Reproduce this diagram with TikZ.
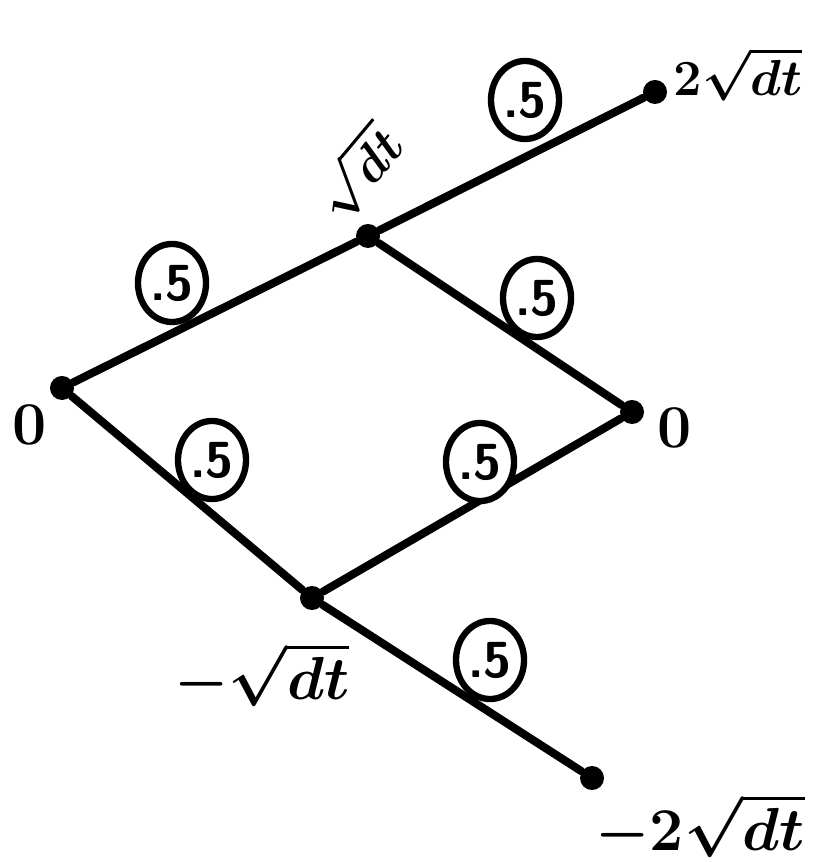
\documentclass[tikz,border=0pt]{standalone}
\usetikzlibrary{shapes.geometric}
\begin{document}
\begin{tikzpicture}[x=0.01cm,y=-0.01cm,
  edge/.style={line width=2.3pt,line cap=round},
  dot/.style={circle,fill=black,inner sep=0pt,minimum size=0.24cm},
  prob/.style={ellipse,draw,line width=1.8pt,fill=white,minimum width=0.68cm,minimum height=0.78cm,inner sep=0pt,font=\Large\bfseries\sffamily},
  lab/.style={font=\LARGE\boldmath,inner sep=1pt}]
\useasboundingbox (0,0) rectangle (814,862);
\node[dot] (A) at (62,388) {};
\node[dot] (B) at (368,236) {};
\node[dot] (C) at (655,92) {};
\node[dot] (D) at (632,412) {};
\node[dot] (E) at (312,598) {};
\node[dot] (F) at (592,778) {};
\draw[edge] (A) -- (B);
\draw[edge] (B) -- (C);
\draw[edge] (B) -- (D);
\draw[edge] (A) -- (E);
\draw[edge] (E) -- (D);
\draw[edge] (E) -- (F);
\node[prob] (pAB) at (172,283) {.5};
\node[prob] (pBC) at (525,100) {.5};
\node[prob] (pBD) at (537,298) {.5};
\node[prob] (pAE) at (212,460) {.5};
\node[prob] (pED) at (480,462) {.5};
\node[prob] (pEF) at (490,660) {.5};
\node[lab] (lA) at (30,425) {$0$};
\node[lab] (lD) at (675,428) {$0$};
\node[lab,font=\Large\boldmath,rotate=50] (lB) at (358,172) {$\sqrt{dt}$};
\node[lab,font=\Large\boldmath] (lC) at (738,74) {$2\sqrt{dt}$};
\node[lab] (lE) at (262,675) {$-\sqrt{dt}$};
\node[lab] (lF) at (700,826) {$-2\sqrt{dt}$};
\end{tikzpicture}
\end{document}
